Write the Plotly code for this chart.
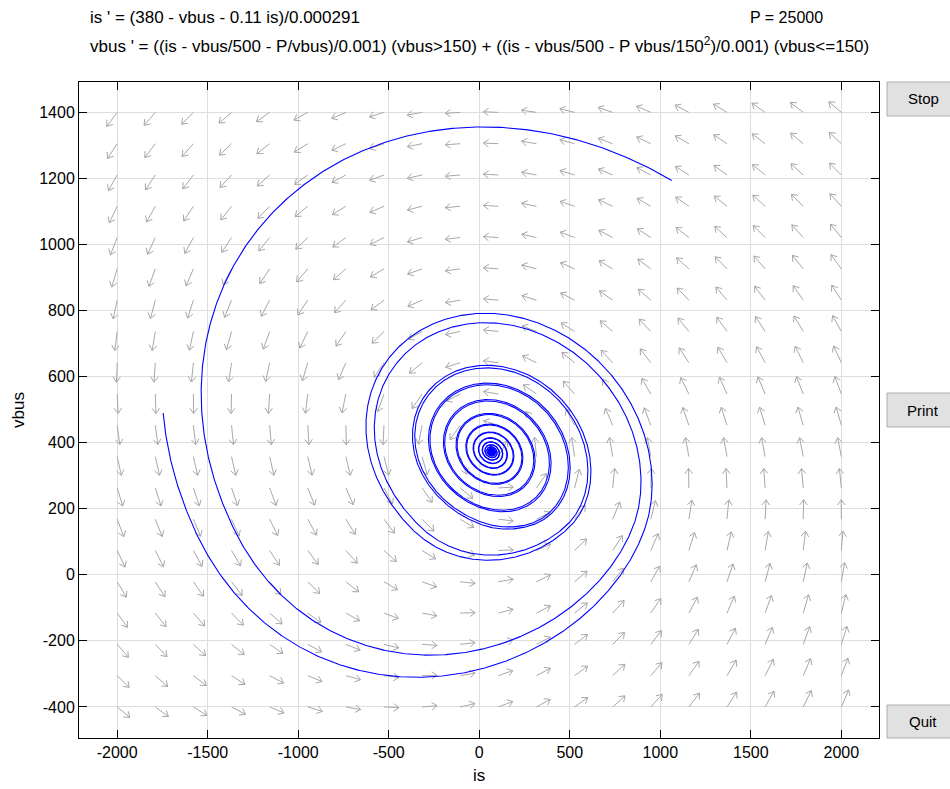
import math
import plotly.graph_objects as go

# ---- system parameters (as stated in the equations) ----
P = 25000.0
V_REF = 380.0
R_S = 0.11
L_S = 0.000291
C_BUS = 0.001
R_LOAD = 500.0
V_KNEE = 150.0

# ---- display window ----
X_RANGE = [-2211, 2208]
Y_RANGE = [-494, 1492]
X_TICKS = [-2000, -1500, -1000, -500, 0, 500, 1000, 1500, 2000]
X_TICK_TEXT = ["-2000", "-1500", "-1000", "-500", "0", "500", "1000", "1500", "2000"]
Y_TICKS = [-400, -200, 0, 200, 400, 600, 800, 1000, 1200, 1400]
Y_TICK_TEXT = ["-400", "-200", "0", "200", "400", "600", "800", "1000", "1200", "1400"]

# direction-field grid (20 x 20 over the user window)
FIELD_X = [-2000 + k * 4000 / 19 for k in range(20)]
FIELD_Y = [-400 + k * 1800 / 19 for k in range(20)]

# initial points of the computed solutions
STARTS = [(1063.0, 1194.0), (-1746.0, 490.0)]
T_END = 0.065
DT = 1e-6

# ---- figure geometry ----
W, H = 950, 789
ML, MR, MT, MB = 79, 71, 82, 51
PW, PH = W - ML - MR, H - MT - MB
SX = PW / (X_RANGE[1] - X_RANGE[0])   # px per unit in x
SY = PH / (Y_RANGE[1] - Y_RANGE[0])   # px per unit in y


def field(i_s, v):
    di = (V_REF - v - R_S * i_s) / L_S
    if v > V_KNEE:
        dv = (i_s - v / R_LOAD - P / v) / C_BUS
    else:
        dv = (i_s - v / R_LOAD - P * v / V_KNEE ** 2) / C_BUS
    return di, dv


def solve(x0, y0):
    xs, ys = [x0], [y0]
    x, y = x0, y0
    n = int(T_END / DT)
    for k in range(n):
        a1, b1 = field(x, y)
        a2, b2 = field(x + 0.5 * DT * a1, y + 0.5 * DT * b1)
        a3, b3 = field(x + 0.5 * DT * a2, y + 0.5 * DT * b2)
        a4, b4 = field(x + DT * a3, y + DT * b3)
        x += DT / 6 * (a1 + 2 * a2 + 2 * a3 + a4)
        y += DT / 6 * (b1 + 2 * b2 + 2 * b3 + b4)
        if k % 4 == 3:
            xs.append(x)
            ys.append(y)
    return xs, ys


# ---- direction field arrows ----
ARROW_H = 15.0   # px, horizontal arrow length
ARROW_V = 19.5   # px, vertical arrow length
HEAD = 6.5       # px, barb length
HEAD_ANG = 0.62  # rad

ax, ay = [], []
for gx in FIELD_X:
    for gy in FIELD_Y:
        f, g = field(gx, gy)
        u, w = f / (ARROW_H / SX), g / (ARROW_V / SY)
        n = math.hypot(u, w)
        if n == 0:
            continue
        dxp = ARROW_H * u / n          # px, to the right
        dyp = ARROW_V * w / n          # px, upward
        tx, ty = gx + dxp / SX, gy + dyp / SY
        ax += [gx, tx, None]
        ay += [gy, ty, None]
        L = math.hypot(dxp, dyp)
        ux, uy = -dxp / L, -dyp / L
        for s in (1, -1):
            c, sn = math.cos(s * HEAD_ANG), math.sin(s * HEAD_ANG)
            bx = (ux * c - uy * sn) * HEAD
            by = (ux * sn + uy * c) * HEAD
            ax += [tx, tx + bx / SX, None]
            ay += [ty, ty + by / SY, None]

fig = go.Figure()
fig.add_trace(go.Scatter(x=ax, y=ay, mode="lines",
                         line=dict(color="#A8A8A8", width=1),
                         hoverinfo="skip", showlegend=False))

for (x0, y0) in STARTS:
    xs, ys = solve(x0, y0)
    fig.add_trace(go.Scatter(x=xs, y=ys, mode="lines",
                             line=dict(color="#0000FF", width=1.1),
                             showlegend=False))

FONT = "Liberation Sans, Arial, sans-serif"
axis_common = dict(showline=True, linecolor="black", linewidth=1, mirror="ticks",
                   ticks="inside", ticklen=8, tickcolor="black", tickwidth=1,
                   showgrid=True, gridcolor="#DEDEDE", gridwidth=1, zeroline=False,
                   tickfont=dict(family=FONT, size=16, color="black"))
fig.update_xaxes(range=X_RANGE, tickvals=X_TICKS, ticktext=X_TICK_TEXT, **axis_common)
fig.update_yaxes(range=Y_RANGE, tickvals=Y_TICKS, ticktext=Y_TICK_TEXT, **axis_common)


def px_x(p):
    return (p - ML) / PW


def px_y(p):
    return (MT + PH - p) / PH


ann = [
    dict(text="is ' = (380 - vbus - 0.11 is)/0.000291", x=px_x(88), y=px_y(18),
         xanchor="left", yanchor="middle", font_size=17),
    dict(text="vbus ' = ((is - vbus/500 - P/vbus)/0.001) (vbus>150) + "
              "((is - vbus/500 - P vbus/150<sup>2</sup>)/0.001) (vbus<=150)",
         x=px_x(88), y=px_y(45), xanchor="left", yanchor="middle", font_size=17),
    dict(text="P = 25000", x=px_x(748), y=px_y(18), xanchor="left", yanchor="middle",
         font_size=16),
    dict(text="is", x=px_x(479), y=px_y(775), xanchor="center", yanchor="middle",
         font_size=17),
    dict(text="vbus", x=px_x(18), y=px_y(410), xanchor="center", yanchor="middle",
         textangle=-90, font_size=17),
]

# side buttons
shapes = []
for label, top, bot in [("Stop", 82, 116), ("Print", 393, 427), ("Quit", 705, 738)]:
    shapes.append(dict(type="rect", xref="paper", yref="paper",
                       x0=px_x(887), x1=px_x(960), y0=px_y(bot), y1=px_y(top),
                       fillcolor="#E1E1E1", line=dict(color="#ADADAD", width=1),
                       layer="above"))
    ann.append(dict(text=label, x=px_x(923), y=px_y((top + bot) / 2),
                    xanchor="center", yanchor="middle", font_size=15))

for a in ann:
    a.update(xref="paper", yref="paper", showarrow=False)
    a["font"] = dict(family=FONT, size=a.pop("font_size"), color="black")

fig.update_layout(width=W, height=H, margin=dict(l=ML, r=MR, t=MT, b=MB),
                  paper_bgcolor="white", plot_bgcolor="white",
                  annotations=ann, shapes=shapes, showlegend=False)

fig.write_html("out.html")
